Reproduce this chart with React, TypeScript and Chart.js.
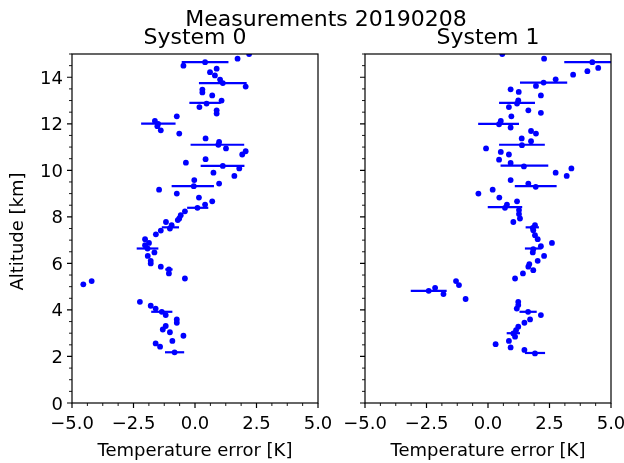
import React, { useEffect, useRef } from 'react';
import { Chart, registerables } from 'chart.js';

Chart.register(...registerables);

const SUPTITLE = 'Measurements 20190208';
const TITLES = ['System 0', 'System 1'];
const X_LABEL = 'Temperature error [K]';
const Y_LABEL = 'Altitude [km]';
const X_TICKS = [-5, -2.5, 0, 2.5, 5];
const Y_TICKS = [0, 2, 4, 6, 8, 10, 12, 14];

// System 0 measurements
const alt0 = [15.0, 14.8, 14.65, 14.5, 14.37, 14.22, 14.08, 13.9, 13.75, 13.6, 13.47, 13.35, 13.22, 13.0, 12.87, 12.72, 12.58, 12.44, 12.32, 12.12, 12.0, 11.9, 11.72, 11.58, 11.37, 11.22, 11.1, 10.94, 10.82, 10.68, 10.48, 10.33, 10.19, 10.08, 9.9, 9.76, 9.58, 9.43, 9.32, 9.17, 9.0, 8.83, 8.67, 8.53, 8.39, 8.24, 8.07, 7.93, 7.86, 7.78, 7.64, 7.5, 7.41, 7.25, 7.04, 6.88, 6.78, 6.64, 6.47, 6.32, 6.11, 6.0, 5.86, 5.74, 5.57, 5.35, 5.24, 5.1, 4.35, 4.18, 4.06, 3.92, 3.78, 3.59, 3.45, 3.31, 3.16, 3.04, 2.89, 2.67, 2.56, 2.42, 2.18];
const temp0 = [2.2, 1.73, 0.41, -0.47, 0.88, 0.61, 0.81, 1.02, 1.13, 2.06, 0.3, 0.3, 0.7, 1.08, 0.47, 0.18, 0.88, 0.88, -0.74, -1.63, -1.5, -1.53, -1.39, -0.64, 0.43, 0.98, 0.95, 1.26, 2.06, 1.92, 0.43, -0.37, 1.13, 1.8, 0.75, 1.6, -0.03, 0.98, -0.05, -1.46, -0.74, 0.16, 0.7, 0.41, 0.1, -0.41, -0.58, -0.64, -0.7, -1.18, -0.95, -1.02, -1.39, -1.59, -2.03, -1.87, -2.03, -1.93, -1.65, -1.92, -1.8, -1.8, -1.39, -1.06, -1.06, -0.41, -4.2, -4.54, -2.24, -1.8, -1.6, -1.35, -1.19, -0.74, -0.74, -1.19, -1.31, -1.02, -0.47, -0.92, -1.6, -1.42, -0.83];
const ebAlt0 = [14.65, 13.75, 12.9, 12.01, 11.1, 10.19, 9.32, 8.39, 7.55, 6.64, 5.74, 3.92, 2.18];
const ebTemp0 = [0.41, 1.13, 0.41, -1.49, 0.91, 1.12, -0.09, 0.11, -1.0, -1.93, -1.06, -1.35, -0.83];
const ebHalf0 = [0.95, 0.97, 0.64, 0.7, 1.09, 0.89, 0.86, 0.43, 0.35, 0.44, 0.15, 0.43, 0.39];

// System 1 measurements
const alt1 = [15.0, 14.8, 14.65, 14.4, 14.26, 14.11, 13.91, 13.77, 13.63, 13.48, 13.37, 13.22, 13.01, 12.87, 12.72, 12.58, 12.47, 12.32, 12.12, 11.98, 11.84, 11.69, 11.58, 11.37, 11.25, 11.08, 10.94, 10.79, 10.68, 10.46, 10.32, 10.17, 10.08, 9.9, 9.76, 9.58, 9.43, 9.29, 9.17, 9.0, 8.83, 8.67, 8.53, 8.39, 8.29, 8.12, 7.93, 7.78, 7.64, 7.53, 7.43, 7.21, 7.04, 6.88, 6.74, 6.61, 6.47, 6.32, 6.11, 5.97, 5.86, 5.71, 5.57, 5.35, 5.24, 5.07, 4.95, 4.82, 4.68, 4.47, 4.35, 4.21, 4.06, 3.92, 3.78, 3.59, 3.45, 3.28, 3.13, 2.99, 2.85, 2.67, 2.53, 2.39, 2.28, 2.13];
const temp1 = [0.58, 2.28, 4.24, 4.48, 4.04, 3.46, 2.75, 2.26, 1.95, 0.92, 1.25, 2.15, 1.23, 1.18, 0.85, 1.64, 2.15, 0.95, 0.52, 0.45, 0.92, 1.75, 1.95, 1.37, 1.75, 1.38, -0.08, 0.52, 0.85, 0.45, 0.92, 1.46, 3.39, 2.75, 3.2, 0.92, 1.64, 1.94, 0.19, -0.39, 0.46, 1.18, 0.77, 0.69, 1.26, 1.26, 1.3, 1.03, 1.91, 1.82, 1.84, 1.91, 2.02, 2.6, 2.15, 1.84, 1.82, 2.28, 2.02, 1.68, 1.64, 1.84, 1.42, 1.1, -1.3, -1.18, -2.15, -2.41, -1.81, -0.91, 1.23, 1.23, 1.17, 1.63, 2.15, 1.71, 1.48, 1.23, 1.14, 1.03, 1.1, 0.85, 0.31, 0.92, 1.48, 1.91];
const ebAlt1 = [14.65, 13.77, 12.9, 12.0, 11.1, 10.2, 9.32, 8.42, 7.55, 6.64, 4.82, 3.92, 3.0, 2.15];
const ebTemp1 = [4.24, 2.26, 1.18, 0.43, 1.38, 1.48, 1.94, 0.69, 1.8, 1.84, -2.41, 1.63, 1.03, 1.91];
const ebHalf1 = [1.14, 0.96, 0.73, 0.83, 0.93, 0.97, 0.85, 0.7, 0.27, 0.34, 0.73, 0.35, 0.27, 0.41];

const W = 624;
const H = 463;
const FONT = '"DejaVu Sans", sans-serif';
const BLUE = '#0000ff';

const fmtX = (v: number) => (v < 0 ? '\u2212' : '') + Math.abs(v).toFixed(1);

function makeChart(
  canvas: HTMLCanvasElement,
  idx: number,
  alt: number[],
  temp: number[],
  ebAlt: number[],
  ebTemp: number[],
  ebHalf: number[],
) {
  const left = idx === 0 ? 72 : 365;
  const right = idx === 0 ? 318 : 611;
  const datasets: any[] = [
    {
      type: 'scatter',
      data: alt.map((a, i) => ({ x: temp[i], y: a })),
      pointRadius: 2.9,
      pointHoverRadius: 2.9,
      pointBackgroundColor: BLUE,
      pointBorderWidth: 0,
      borderWidth: 0,
      showLine: false,
      clip: 0,
    },
  ];
  ebAlt.forEach((a, i) => {
    datasets.push({
      type: 'line',
      data: [
        { x: ebTemp[i] - ebHalf[i], y: a },
        { x: ebTemp[i] + ebHalf[i], y: a },
      ],
      borderColor: BLUE,
      borderWidth: 2.2,
      pointRadius: 0,
      fill: false,
      tension: 0,
      clip: 0,
    });
  });

  const decor = {
    id: 'decor' + idx,
    afterDraw(chart: any) {
      const { ctx, chartArea: a, scales } = chart;
      const xs = scales.x;
      const ys = scales.y;
      ctx.save();
      ctx.strokeStyle = '#000';
      // spines
      ctx.lineWidth = 1.2;
      ctx.strokeRect(a.left, a.top, a.right - a.left, a.bottom - a.top);
      // major ticks
      ctx.lineWidth = 1.2;
      ctx.beginPath();
      X_TICKS.forEach((v) => {
        const px = xs.getPixelForValue(v);
        ctx.moveTo(px, a.bottom);
        ctx.lineTo(px, a.bottom + 5);
      });
      Y_TICKS.forEach((v) => {
        const py = ys.getPixelForValue(v);
        ctx.moveTo(a.left, py);
        ctx.lineTo(a.left - 5, py);
      });
      ctx.stroke();
      // minor ticks
      ctx.lineWidth = 0.9;
      ctx.beginPath();
      for (let k = 0; k <= 16; k++) {
        const v = -5 + k * 0.625;
        if (k % 4 === 0) continue;
        const px = xs.getPixelForValue(v);
        ctx.moveTo(px, a.bottom);
        ctx.lineTo(px, a.bottom + 3);
      }
      for (let k = 0; k <= 30; k++) {
        if (k % 4 === 0) continue;
        const py = ys.getPixelForValue(k * 0.5);
        ctx.moveTo(a.left, py);
        ctx.lineTo(a.left - 3, py);
      }
      ctx.stroke();

      ctx.fillStyle = '#000';
      ctx.textBaseline = 'alphabetic';
      // tick labels
      ctx.font = `18px ${FONT}`;
      ctx.textAlign = 'center';
      X_TICKS.forEach((v) => {
        ctx.fillText(fmtX(v), xs.getPixelForValue(v), 429);
      });
      if (idx === 0) {
        ctx.textAlign = 'right';
        Y_TICKS.forEach((v) => {
          ctx.fillText(String(v), a.left - 9, ys.getPixelForValue(v) + 6.5);
        });
      }
      ctx.textAlign = 'center';
      // subplot title
      ctx.font = `22px ${FONT}`;
      ctx.fillText(TITLES[idx], (a.left + a.right) / 2, 44);
      // x label
      ctx.font = `18px ${FONT}`;
      ctx.fillText(X_LABEL, (a.left + a.right) / 2, 456);
      if (idx === 0) {
        ctx.font = `22px ${FONT}`;
        ctx.fillText(SUPTITLE, 326, 26);
        ctx.font = `18px ${FONT}`;
        ctx.save();
        ctx.translate(23, (a.top + a.bottom) / 2 + 3);
        ctx.rotate(-Math.PI / 2);
        ctx.fillText(Y_LABEL, 0, 0);
        ctx.restore();
      }
      ctx.restore();
    },
  };

  return new Chart(canvas, {
    type: 'scatter',
    data: { datasets },
    options: {
      animation: false,
      responsive: false,
      events: [],
      layout: {
        padding: { left: left, right: W - right, top: 54, bottom: H - 403 },
      },
      plugins: {
        legend: { display: false },
        tooltip: { enabled: false },
        title: { display: false },
      },
      scales: {
        x: { type: 'linear', display: false, min: -5, max: 5 },
        y: { type: 'linear', display: false, min: 0, max: 15 },
      },
    },
    plugins: [decor],
  } as any);
}

export default function App() {
  const ref0 = useRef<HTMLCanvasElement>(null);
  const ref1 = useRef<HTMLCanvasElement>(null);

  useEffect(() => {
    const c0 = makeChart(ref0.current!, 0, alt0, temp0, ebAlt0, ebTemp0, ebHalf0);
    const c1 = makeChart(ref1.current!, 1, alt1, temp1, ebAlt1, ebTemp1, ebHalf1);
    return () => {
      c0.destroy();
      c1.destroy();
    };
  }, []);

  const style: React.CSSProperties = { position: 'absolute', left: 0, top: 0, width: W, height: H };
  return (
    <div style={{ position: 'fixed', left: 0, top: 0, width: W, height: H, background: '#fff' }}>
      <canvas ref={ref0} width={W} height={H} style={style} />
      <canvas ref={ref1} width={W} height={H} style={style} />
    </div>
  );
}
